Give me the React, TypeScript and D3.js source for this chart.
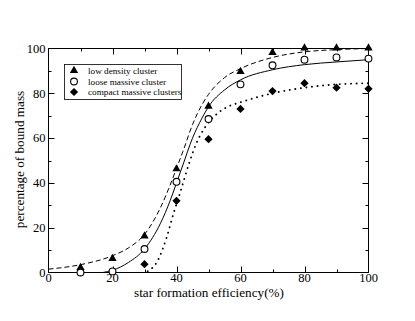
import React, { useEffect, useRef } from "react";
import * as d3 from "d3";

// measured points (star formation efficiency %, bound mass %)
const sfe = [10, 20, 30, 40, 50, 60, 70, 80, 90, 100];
const lowDensity = [2, 6, 16, 46, 74, 89.5, 98, 100, 100, 100];
const looseMassive = [0, 0.5, 10.5, 40.5, 68.5, 84, 92.5, 95, 96, 95.5];
const compactSfe = [30, 40, 50, 60, 70, 80, 90, 100];
const compactMassive = [3.7, 32, 59.5, 73, 81, 84.5, 82.5, 82];

// fitted curves
const lowFitX = [0, 10, 20, 25, 30, 35, 38, 40, 42, 45, 48, 50, 55, 60, 70, 80, 90, 100];
const lowFitY = [1.5, 3.5, 7.5, 11, 17, 29, 39, 46.5, 54, 66, 75, 79.5, 87, 91, 96, 98.5, 99.5, 100];
const looseFitX = [17, 20, 25, 30, 35, 38, 40, 42, 45, 48, 50, 55, 60, 70, 80, 90, 100];
const looseFitY = [0, 1, 4.5, 10.5, 22, 32, 40, 48, 60, 69, 74, 81.5, 86, 90.5, 92.8, 94, 95];
const compactFitX = [31, 34, 37, 39, 41, 44, 46, 49, 52, 56, 60, 70, 80, 90, 100];
const compactFitY = [0.5, 5, 16, 26, 35, 49, 57, 65, 70, 74, 76, 80, 82.5, 84, 84.5];

const xTicks = [0, 20, 40, 60, 80, 100];
const yTicks = [0, 20, 40, 60, 80, 100];
const minorTicks = [10, 30, 50, 70, 90];

const legendLabels = ["low density cluster", "loose massive cluster", "compact massive clusters"];

const App = () => {
  const svgRef = useRef<SVGSVGElement>(null);

  useEffect(() => {
    const width = 415;
    const height = 321;
    const left = 48.5, right = 368.5, top = 48.5, bottom = 272.5;
    const font = "Liberation Serif, Times New Roman, Times, serif";

    const svg = d3.select(svgRef.current)
      .attr("width", width).attr("height", height)
      .attr("font-family", font)
      .attr("fill", "#000");
    svg.selectAll("*").remove();

    const x = d3.scaleLinear().domain([0, 100]).range([left, right]);
    const y = d3.scaleLinear().domain([0, 100]).range([bottom, top]);

    svg.append("rect").attr("width", width).attr("height", height).attr("fill", "#fff");

    // --- frame and ticks ---
    const frame = svg.append("g").attr("stroke", "#000").attr("stroke-width", 1);
    frame.append("rect")
      .attr("x", left).attr("y", top)
      .attr("width", right - left).attr("height", bottom - top)
      .attr("fill", "none");

    const tickLen = (v: number) => (minorTicks.includes(v) ? 3 : 6);
    const allTicks = [...xTicks, ...minorTicks].filter((v) => v > 0 && v < 100);
    allTicks.forEach((v) => {
      const px = Math.round(x(v)) + 0.5;
      const py = Math.round(y(v)) + 0.5;
      frame.append("line").attr("x1", px).attr("x2", px).attr("y1", bottom).attr("y2", bottom - tickLen(v));
      frame.append("line").attr("x1", px).attr("x2", px).attr("y1", top).attr("y2", top + tickLen(v));
      frame.append("line").attr("y1", py).attr("y2", py).attr("x1", left).attr("x2", left + tickLen(v));
      frame.append("line").attr("y1", py).attr("y2", py).attr("x1", right).attr("x2", right - tickLen(v));
    });

    // --- tick labels ---
    svg.append("g").selectAll("text").data(xTicks).join("text")
      .attr("x", (d) => x(d)).attr("y", 282)
      .attr("text-anchor", "middle")
      .attr("font-size", 12.5)
      .attr("fill", "#000")
      .text((d) => d);

    svg.append("g").selectAll("text").data(yTicks).join("text")
      .attr("x", left - 3).attr("y", (d) => y(d)).attr("dy", "0.35em")
      .attr("text-anchor", "end")
      .attr("font-size", 12.5)
      .attr("fill", "#000")
      .text((d) => d);

    // --- axis titles ---
    svg.append("text")
      .attr("x", (left + right) / 2 + 0.5).attr("y", 296.5)
      .attr("text-anchor", "middle")
      .attr("font-size", 13.2)
      .attr("fill", "#000")
      .text("star formation efficiency(%)");

    svg.append("text")
      .attr("transform", `translate(24, ${(top + bottom) / 2 - 1}) rotate(-90)`)
      .attr("text-anchor", "middle")
      .attr("font-size", 13.2)
      .attr("fill", "#000")
      .text("percentage of bound mass");

    // --- fitted curves ---
    const line = d3.line<[number, number]>()
      .x((d) => x(d[0])).y((d) => y(d[1]))
      .curve(d3.curveMonotoneX);

    const fits = [
      { xs: lowFitX, ys: lowFitY, dash: "5,3", width: 1, cap: "butt" },
      { xs: looseFitX, ys: looseFitY, dash: null, width: 1, cap: "butt" },
      { xs: compactFitX, ys: compactFitY, dash: "0.1,5.5", width: 1.9, cap: "round" },
    ];
    fits.forEach((f) => {
      svg.append("path")
        .attr("d", line(f.xs.map((v, i) => [v, f.ys[i]] as [number, number])))
        .attr("fill", "none")
        .attr("stroke", "#000")
        .attr("stroke-width", f.width)
        .attr("stroke-dasharray", f.dash)
        .attr("stroke-linecap", f.cap);
    });

    // --- markers ---
    const tri = d3.symbol().type(d3.symbolTriangle).size(30);
    const dia = d3.symbol().type(d3.symbolSquare).size(34);

    svg.append("g").selectAll("path").data(sfe).join("path")
      .attr("transform", (d, i) => `translate(${x(d)}, ${y(lowDensity[i]) - 0.5})`)
      .attr("d", tri()).attr("fill", "#000");

    svg.append("g").selectAll("circle").data(sfe).join("circle")
      .attr("cx", (d) => x(d)).attr("cy", (d, i) => y(looseMassive[i]))
      .attr("r", 3.4).attr("fill", "#fff").attr("stroke", "#000").attr("stroke-width", 1.1);

    svg.append("g").selectAll("path").data(compactSfe).join("path")
      .attr("transform", (d, i) => `translate(${x(d)}, ${y(compactMassive[i])}) rotate(45)`)
      .attr("d", dia()).attr("fill", "#000");

    // --- legend ---
    const legend = svg.append("g");
    legend.append("rect")
      .attr("x", 64.5).attr("y", 64.5).attr("width", 117).attr("height", 35)
      .attr("fill", "#fff").attr("stroke", "#000").attr("stroke-width", 0.8);

    legendLabels.forEach((label, i) => {
      const ly = 71 + i * 10.5;
      if (i === 0) {
        legend.append("path").attr("transform", `translate(74, ${ly - 0.5})`).attr("d", tri()).attr("fill", "#000");
      } else if (i === 1) {
        legend.append("circle").attr("cx", 74).attr("cy", ly).attr("r", 3.4)
          .attr("fill", "#fff").attr("stroke", "#000").attr("stroke-width", 1.1);
      } else {
        legend.append("path").attr("transform", `translate(74, ${ly}) rotate(45)`).attr("d", dia()).attr("fill", "#000");
      }
      legend.append("text")
        .attr("x", 88).attr("y", ly).attr("dy", "0.35em")
        .attr("font-size", 9.2)
        .attr("fill", "#000")
        .text(label);
    });
  }, []);

  return (
    <svg ref={svgRef} style={{ position: "absolute", left: 0, top: 0 }}></svg>
  );
};

export default App;
